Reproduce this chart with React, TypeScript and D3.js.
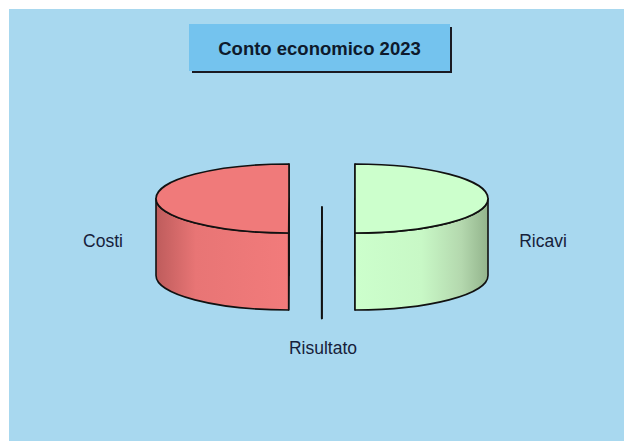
import React from "react";
import * as d3 from "d3";

const TITLE = "Conto economico 2023";
const categories = ["Ricavi", "Risultato", "Costi"];
const values = [1250000, 1000, 1249000];
const topColors = ["#CCFFCC", "#1B2A44", "#F07A7A"];

const W = 624;
const H = 441;
const CX = 322;
const CY = 198.5;
const RX = 133;
const RY = 34.5;
const DEPTH = 77;
const EXPLODE = 33;

type Slice = d3.PieArcDatum<number>;

function pt(a: number, ox: number, oy: number, dy = 0): [number, number] {
  return [CX + ox + RX * Math.sin(a), CY + oy - RY * Math.cos(a) + dy];
}

export default function App() {
  const pie = d3.pie<number>().sort(null).startAngle(0).endAngle(2 * Math.PI);
  const arcs: Slice[] = pie(values);

  const pieces = arcs.map((d, i) => {
    const mid = (d.startAngle + d.endAngle) / 2;
    const ox = EXPLODE * Math.sin(mid);
    const oy = -EXPLODE * (RY / RX) * Math.cos(mid);
    const c: [number, number] = [CX + ox, CY + oy];
    const p0 = pt(d.startAngle, ox, oy);
    const p1 = pt(d.endAngle, ox, oy);
    const large = d.endAngle - d.startAngle > Math.PI ? 1 : 0;
    const top = `M${c[0]},${c[1]}L${p0[0]},${p0[1]}A${RX},${RY} 0 ${large} 1 ${p1[0]},${p1[1]}Z`;

    // radial cut faces
    const cut = (a: number) => {
      const p = pt(a, ox, oy);
      return `M${c[0]},${c[1]}L${p[0]},${p[1]}L${p[0]},${p[1] + DEPTH}L${c[0]},${c[1] + DEPTH}Z`;
    };

    // outer wall, visible only on the front half
    const s = Math.max(d.startAngle, Math.PI / 2);
    const e = Math.min(d.endAngle, (3 * Math.PI) / 2);
    let side: string | null = null;
    if (e > s) {
      const a = pt(s, ox, oy);
      const b = pt(e, ox, oy);
      side = `M${a[0]},${a[1]}A${RX},${RY} 0 0 1 ${b[0]},${b[1]}L${b[0]},${b[1] + DEPTH}A${RX},${RY} 0 0 0 ${a[0]},${a[1] + DEPTH}Z`;
    }
    return { i, top, side, cutA: cut(d.startAngle), cutB: cut(d.endAngle), ox };
  });

  const sideFill = ["url(#gRicavi)", "#1B2A44", "url(#gCosti)"];
  const font = "'Liberation Sans', Arial, Helvetica, sans-serif";
  const labelColor = "#16213A";

  return (
    <svg
      width={W}
      height={H}
      style={{ position: "absolute", left: 0, top: 0, display: "block", background: "#ffffff" }}
    >
      <defs>
        <linearGradient id="gCosti" gradientUnits="userSpaceOnUse" x1={156} y1={0} x2={289} y2={0}>
          <stop offset="0" stopColor="#BE5C5C" />
          <stop offset="0.3" stopColor="#E87575" />
          <stop offset="1" stopColor="#F27B7B" />
        </linearGradient>
        <linearGradient id="gRicavi" gradientUnits="userSpaceOnUse" x1={355} y1={0} x2={488} y2={0}>
          <stop offset="0" stopColor="#CCFFCC" />
          <stop offset="0.5" stopColor="#C8F8C6" />
          <stop offset="0.8" stopColor="#B4D8AE" />
          <stop offset="1" stopColor="#93B48C" />
        </linearGradient>
      </defs>
      <rect x={9} y={9} width={W - 9} height={H - 9} fill="#A8D8EF" />

      {/* title */}
      <rect x={192} y={27} width={260} height={46} fill="#1A1A22" />
      <rect x={189} y={24} width={261} height={47} fill="#74C3EE" />
      <text
        x={319.5}
        y={55}
        textAnchor="middle"
        fontFamily={font}
        fontWeight="bold"
        fontSize={18.5}
        fill="#0E1A2C"
      >
        {TITLE}
      </text>

      {/* 3D pie */}
      {pieces.map((p) => (
        <g key={categories[p.i]} stroke="#111111" strokeWidth={p.i === 1 ? 1.4 : 1.6} strokeLinejoin="round">
          <path d={p.cutA} fill={topColors[p.i]} />
          <path d={p.cutB} fill={topColors[p.i]} />
          {p.side && <path d={p.side} fill={sideFill[p.i]} />}
          <path d={p.top} fill={topColors[p.i]} />
        </g>
      ))}

      {/* labels */}
      <text x={103} y={247} textAnchor="middle" fontFamily={font} fontSize={17.5} fill={labelColor}>
        {categories[2]}
      </text>
      <text x={543} y={247} textAnchor="middle" fontFamily={font} fontSize={17.5} fill={labelColor}>
        {categories[0]}
      </text>
      <text x={323} y={354} textAnchor="middle" fontFamily={font} fontSize={17.5} fill={labelColor}>
        {categories[1]}
      </text>
    </svg>
  );
}
